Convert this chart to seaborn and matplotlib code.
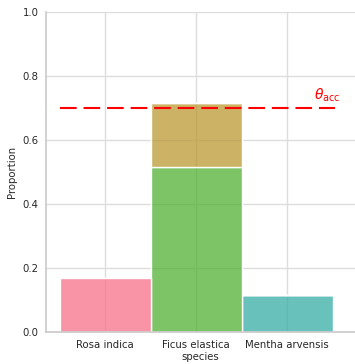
import matplotlib
matplotlib.use("Agg")
import matplotlib.pyplot as plt
import seaborn as sns
import pandas as pd

# data
species = ["Rosa indica", "Ficus elastica", "Ficus elastica", "Mentha arvensis"]
group = ["g1", "g2", "g3", "g4"]
share = [0.17, 0.20, 0.515, 0.115]
palette = ["#f77189", "#bb9832", "#50b131", "#36ada4"]
threshold = 0.7

df = pd.DataFrame({"species": species, "group": group, "share": share})

sns.set_theme(style="whitegrid", rc={"grid.color": "#dddddd",
                                     "axes.edgecolor": "#cccccc"})
plt.rcParams["font.family"] = ["DejaVu Sans"]

fig = plt.figure(figsize=(3.55, 3.64), dpi=100)
ax = fig.add_axes([46 / 355, 32 / 364, 309 / 355, 320 / 364])

sns.histplot(data=df, x="species", hue="group", weights="share",
             multiple="stack", stat="proportion", palette=palette,
             alpha=0.75, legend=False, ax=ax)

ax.hlines(threshold, -0.5, 2.53, colors="red", linewidth=1.5,
          linestyles=(0, (8, 3.3)))
ax.text(2.3, 0.712, r"$\theta_{\rm acc}$", color="red", fontsize=10,
        ha="left", va="bottom")

ax.set_xlim(-0.65, 2.746)
ax.set_ylim(0, 1.0)
ax.set_xlabel("species", fontsize=7.3, labelpad=1)
ax.set_ylabel("Proportion", fontsize=7.3)
ax.tick_params(labelsize=7.3, length=0)
ax.tick_params(axis="x", pad=5.9)
ax.tick_params(axis="y", pad=5.2)
sns.despine(ax=ax)

fig.savefig("out.png", dpi=100)
